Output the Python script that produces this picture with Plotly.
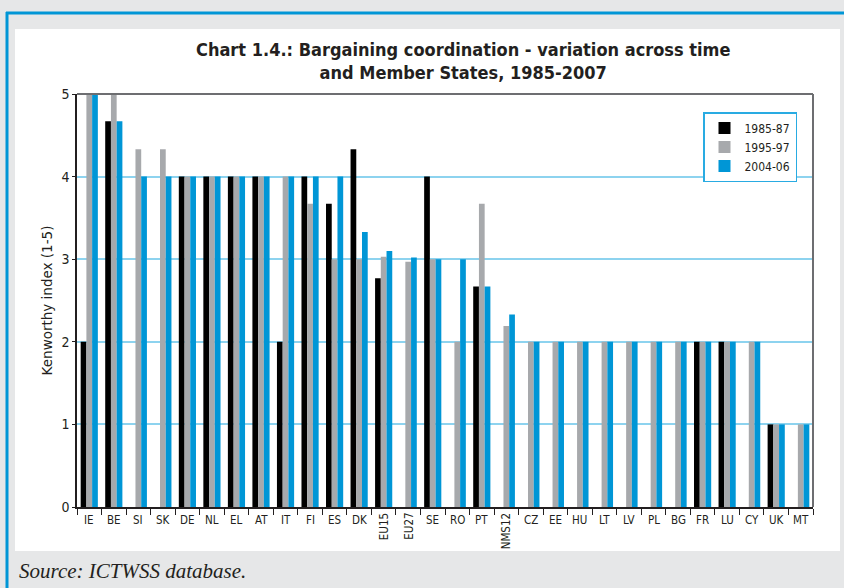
import plotly.graph_objects as go

categories = ["IE", "BE", "SI", "SK", "DE", "NL", "EL", "AT", "IT", "FI", "ES", "DK",
              "EU15", "EU27", "SE", "RO", "PT", "NMS12", "CZ", "EE", "HU", "LT", "LV",
              "PL", "BG", "FR", "LU", "CY", "UK", "MT"]
rotated_labels = ["EU15", "EU27", "NMS12"]

series_names = ["1985-87", "1995-97", "2004-06"]
v_1985 = [2, 4.67, None, None, 4, 4, 4, 4, 2, 4, 3.67, 4.33,
          2.77, None, 4, None, 2.67, None, None, None, None, None, None,
          None, None, 2, 2, None, 1, None]
v_1995 = [5, 5, 4.33, 4.33, 4, 4, 4, 4, 4, 3.67, 3, 3,
          3.03, 2.97, 3, 2, 3.67, 2.19, 2, 2, 2, 2, 2,
          2, 2, 2, 2, 2, 1, 1]
v_2004 = [5, 4.67, 4, 4, 4, 4, 4, 4, 4, 4, 4, 3.33,
          3.1, 3.02, 3, 3, 2.67, 2.33, 2, 2, 2, 2, 2,
          2, 2, 2, 2, 2, 1, 1]
colors = ["#000000", "#a7a9ac", "#0096d6"]

y_ticks = [0, 1, 2, 3, 4, 5]

W, H = 844, 588
L, R, T, B = 77, 813, 94, 507


def px(x):
    return (x - L) / (R - L)


def py(y):
    return (B - y) / (B - T)


FONT = "DejaVu Sans Condensed, Liberation Sans Narrow, Arial Narrow, sans-serif"

fig = go.Figure()
for name, vals, col in zip(series_names, [v_1985, v_1995, v_2004], colors):
    fig.add_trace(go.Bar(x=categories, y=vals, name=name,
                         marker=dict(color=col, line=dict(width=0))))

shapes = [
    # white panel
    dict(type="rect", xref="paper", yref="paper", x0=px(15), x1=px(840), y0=py(551), y1=py(29),
         fillcolor="white", line=dict(width=0), layer="below"),
    # blue border lines
    dict(type="line", xref="paper", yref="paper", x0=px(6), x1=px(844), y0=py(13), y1=py(13),
         line=dict(color="#0096d6", width=3)),
    dict(type="line", xref="paper", yref="paper", x0=px(7), x1=px(7), y0=py(12), y1=py(588),
         line=dict(color="#0096d6", width=3)),
    # top and right frame
    dict(type="line", xref="paper", yref="paper", x0=0, x1=1, y0=1, y1=1,
         line=dict(color="#6d6e71", width=2)),
    dict(type="line", xref="paper", yref="paper", x0=1, x1=1, y0=0, y1=1,
         line=dict(color="#6d6e71", width=2)),
]

annotations = [
    dict(text="<b>Chart 1.4.: Bargaining coordination - variation across time<br>and Member States, 1985-2007</b>",
         xref="paper", yref="paper", x=px(463), y=py(61), xanchor="center", yanchor="middle",
         showarrow=False, font=dict(family=FONT, size=18, color="#231f20")),
    dict(text="<i>Source: ICTWSS database.</i>", xref="paper", yref="paper", x=px(17), y=py(571),
         xanchor="left", yanchor="middle", showarrow=False,
         font=dict(family="Liberation Serif, serif", size=21, color="#231f20")),
]
for c in categories:
    if c in rotated_labels:
        annotations.append(dict(text=c, xref="x", yref="paper", x=c, y=py(511),
                                xanchor="center", yanchor="top", textangle=-90, showarrow=False,
                                font=dict(family=FONT, size=11.5, color="#231f20")))
    else:
        annotations.append(dict(text=c, xref="x", yref="paper", x=c, y=py(511),
                                xanchor="center", yanchor="top", showarrow=False,
                                font=dict(family=FONT, size=11.5, color="#231f20")))

fig.update_layout(
    width=W, height=H,
    margin=dict(l=L, r=W - R, t=T, b=H - B, pad=0),
    paper_bgcolor="#e6e7e8",
    plot_bgcolor="white",
    barmode="group",
    bargap=0.3,
    bargroupgap=0,
    shapes=shapes,
    annotations=annotations,
    showlegend=True,
    legend=dict(x=px(703), y=py(112), xanchor="left", yanchor="top",
                bgcolor="white", bordercolor="#29abe2", borderwidth=1.5,
                font=dict(family=FONT, size=12, color="#231f20"),
                traceorder="normal", itemwidth=30),
    xaxis=dict(type="category", showticklabels=False, tickson="boundaries",
               ticks="outside", ticklen=6, tickcolor="#231f20", tickwidth=1,
               showline=True, linecolor="#231f20", linewidth=1.5, showgrid=False,
               zeroline=False),
    yaxis=dict(range=[0, 5], tickvals=y_ticks, ticks="outside", ticklen=3,
               tickcolor="#231f20", showline=True, linecolor="#231f20", linewidth=1.5,
               showgrid=True, gridcolor="#8dd3ef", gridwidth=2, zeroline=False,
               tickfont=dict(family=FONT, size=14, color="#231f20"),
               title=dict(text="Kenworthy index (1-5)", standoff=6,
                          font=dict(family="DejaVu Sans, Arial, sans-serif", size=13.5, color="#231f20"))),
)

fig.write_html("out.html", config={"displayModeBar": False},
               post_script="document.body.style.margin='0';document.body.style.padding='0';")
